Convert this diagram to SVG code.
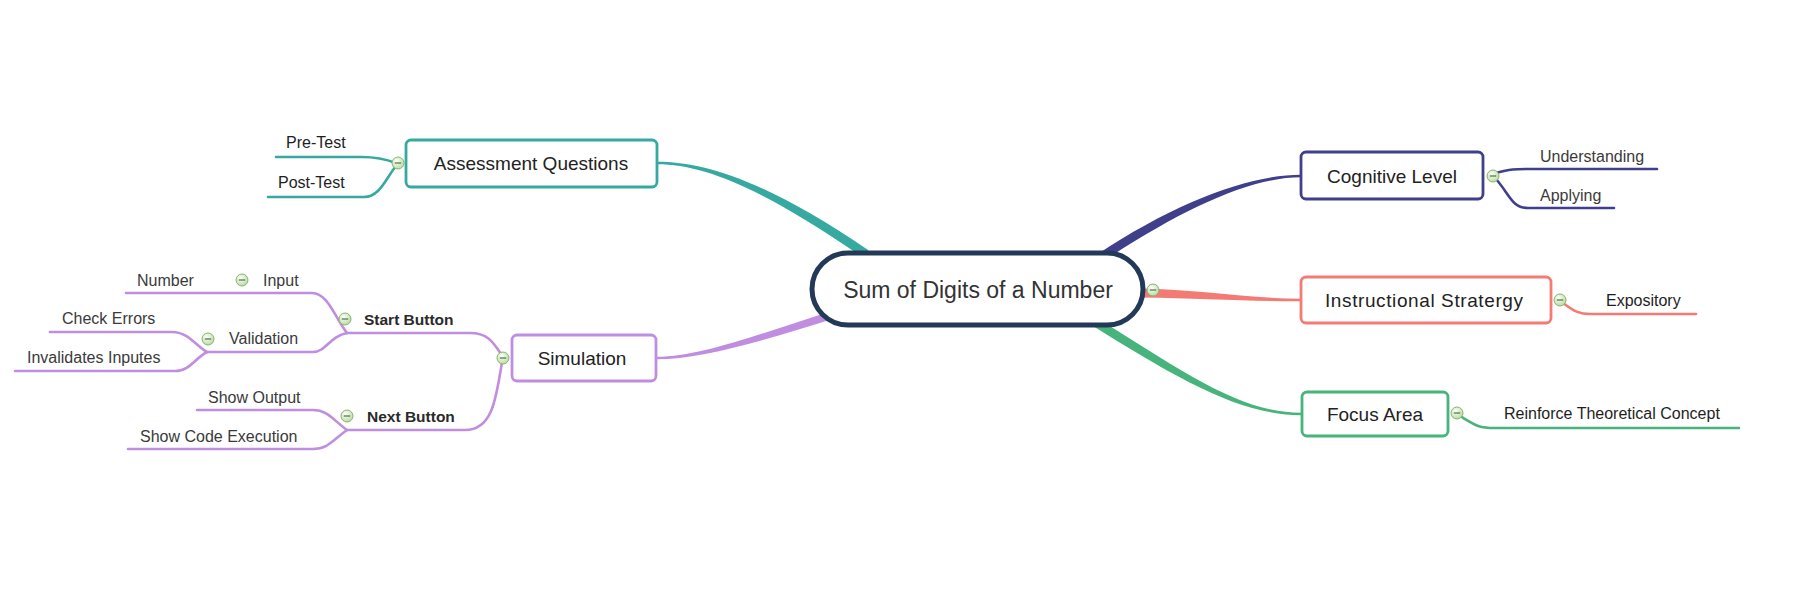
<svg xmlns="http://www.w3.org/2000/svg" xmlns:xlink="http://www.w3.org/1999/xlink" width="1793" height="589" viewBox="0 0 1793 589">
<defs>
<radialGradient id="cg" cx="0.4" cy="0.35" r="0.7">
<stop offset="0" stop-color="#ffffff"/>
<stop offset="1" stop-color="#b5d99c"/>
</radialGradient>
<g id="col">
<circle cx="0" cy="0" r="6" fill="url(#cg)" stroke="#86b56c" stroke-width="1"/>
<line x1="-3.2" y1="0" x2="3.2" y2="0" stroke="#4f7040" stroke-width="1.2"/>
</g>
<style>
.box{fill:#fff;stroke-width:2.8}
.t{font-family:"Liberation Sans",Arial,sans-serif;font-size:19px;fill:#222;text-anchor:middle}
.l{font-family:"Liberation Sans",Arial,sans-serif;font-size:16px;fill:#3a3a3a}
.ld{font-family:"Liberation Sans",Arial,sans-serif;font-size:16px;fill:#1e1e1e}
.b{font-family:"Liberation Sans",Arial,sans-serif;font-size:15.5px;font-weight:bold;fill:#2a2a2a}
.br{fill:none;stroke-width:2.6;stroke-linecap:round}
.teal{stroke:#36a9a0}.pur{stroke:#c08ee0}.navy{stroke:#3f3f8c}.sal{stroke:#f47b74}.grn{stroke:#47b47c}
</style>
</defs>
<rect width="1793" height="589" fill="#fff"/>

<g id="connectors">
<path d="M657,161.75 C705,161.75 767.5,181.3 868.5,250.3 L863.5,257.7 C762.5,188.7 705,164.25 657,164.25 Z" fill="#36a9a0"/>
<path d="M657,356.75 C700,356.75 758.8,334.2 833.8,310.2 L836.2,317.8 C761.2,341.8 700,359.25 657,359.25 Z" fill="#c08ee0"/>
<path d="M1301,174.75 C1250,174.75 1177.5,201.25 1097.5,254.25 L1102.5,261.75 C1182.5,208.75 1250,177.25 1301,177.25 Z" fill="#3f3f8c"/>
<path d="M1301,298.75 C1250,298.75 1200,289.5 1140,288.5 L1140,297.5 C1200,298.5 1250,301.25 1301,301.25 Z" fill="#f47b74"/>
<path d="M1301,412.75 C1240,412.75 1182.4,371.2 1097.4,318.2 L1092.6,325.8 C1177.6,378.8 1240,415.25 1301,415.25 Z" fill="#47b47c"/>

<path class="br teal" d="M276,157 H362 C378,157 388,160 396,163"/>
<path class="br teal" d="M268,197 H364 C380,197 386,178 396,166"/>

<path class="br pur" d="M501,354 C492,340 486,333 470,333 H347"/>
<path class="br pur" d="M502,362 C496,400 492,430 465,430 H347"/>
<path class="br pur" d="M347,333 C335,318 328,293 312,293 H126"/>
<path class="br pur" d="M347,333 C330,336 326,352 313,352 H207"/>
<path class="br pur" d="M207,352 C195,345 188,332 172,332 H50"/>
<path class="br pur" d="M207,352 C195,358 190,371 175,371 H15"/>
<path class="br pur" d="M347,430 C333,420 328,410 313,410 H197"/>
<path class="br pur" d="M347,430 C333,440 328,449 313,449 H128"/>

<path class="br navy" d="M1496,173 C1510,169 1515,169 1530,169 H1657"/>
<path class="br navy" d="M1496,179 C1510,195 1512,208 1528,208 H1614"/>
<path class="br sal" d="M1563,303 C1575,312 1580,314 1590,314 H1696"/>
<path class="br grn" d="M1460,416 C1475,425 1478,428 1495,428 H1739"/>
</g>

<g id="center">
<rect x="812" y="253" width="331" height="72" rx="36" fill="#fff" stroke="#223a58" stroke-width="5"/>
<text x="978" y="298" font-family="Liberation Sans, Arial, sans-serif" font-size="23" fill="#333" text-anchor="middle">Sum of Digits of a Number</text>
<use xlink:href="#col" x="1153" y="290"/>
</g>

<g id="assessment">
<rect class="box" x="406" y="140" width="251" height="47" rx="5" stroke="#36a9a0"/>
<text class="t" x="531" y="170">Assessment Questions</text>
<use xlink:href="#col" x="398" y="163"/>
</g>
<g id="pre-test"><text class="ld" x="286" y="148">Pre-Test</text></g>
<g id="post-test"><text class="ld" x="278" y="188">Post-Test</text></g>

<g id="simulation">
<rect class="box" x="512" y="335" width="144" height="46" rx="5" stroke="#c08ee0"/>
<text class="t" x="582" y="365">Simulation</text>
<use xlink:href="#col" x="503" y="358"/>
</g>
<g id="start-button">
<text class="b" x="364" y="325">Start Button</text>
<use xlink:href="#col" x="345" y="319"/>
</g>
<g id="input">
<text class="l" x="263" y="286">Input</text>
<use xlink:href="#col" x="242" y="280"/>
</g>
<g id="number"><text class="l" x="137" y="286">Number</text></g>
<g id="validation">
<text class="l" x="229" y="344">Validation</text>
<use xlink:href="#col" x="208" y="339"/>
</g>
<g id="check-errors"><text class="l" x="62" y="324">Check Errors</text></g>
<g id="invalidates-inputes"><text class="l" x="27" y="363">Invalidates Inputes</text></g>
<g id="next-button">
<text class="b" x="367" y="422">Next Button</text>
<use xlink:href="#col" x="347" y="416"/>
</g>
<g id="show-output"><text class="l" x="208" y="403">Show Output</text></g>
<g id="show-code-execution"><text class="l" x="140" y="442">Show Code Execution</text></g>

<g id="cognitive-level">
<rect class="box" x="1301" y="152" width="182" height="47" rx="5" stroke="#3f3f8c"/>
<text class="t" x="1392" y="183">Cognitive Level</text>
<use xlink:href="#col" x="1493" y="176"/>
</g>
<g id="understanding"><text class="l" x="1540" y="162">Understanding</text></g>
<g id="applying"><text class="l" x="1540" y="201">Applying</text></g>

<g id="instructional-stratergy">
<rect class="box" x="1301" y="277" width="250" height="46" rx="5" stroke="#f47b74"/>
<text class="t" x="1424" y="307" textLength="198">Instructional Stratergy</text>
<use xlink:href="#col" x="1560" y="300"/>
</g>
<g id="expository"><text class="ld" x="1606" y="306">Expository</text></g>

<g id="focus-area">
<rect class="box" x="1302" y="392" width="146" height="44" rx="5" stroke="#47b47c"/>
<text class="t" x="1375" y="421">Focus Area</text>
<use xlink:href="#col" x="1457" y="413"/>
</g>
<g id="reinforce"><text class="ld" x="1504" y="419">Reinforce Theoretical Concept</text></g>
</svg>
